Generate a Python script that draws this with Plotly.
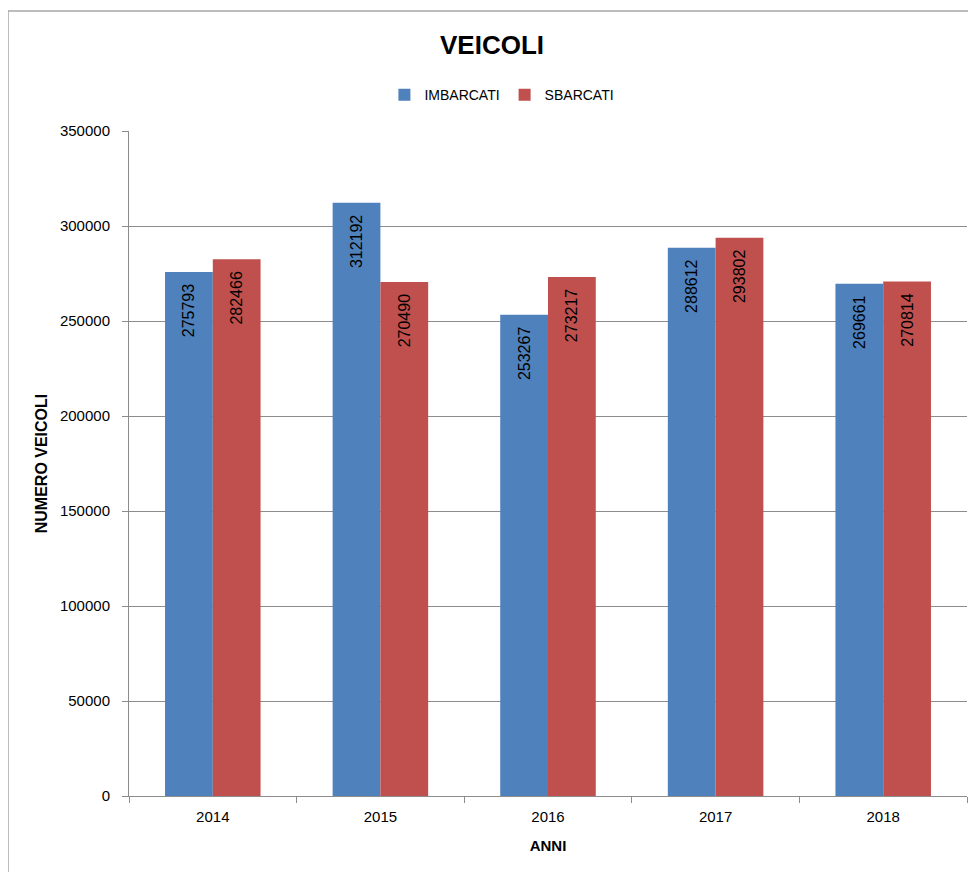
import plotly.graph_objects as go

years = ["2014", "2015", "2016", "2017", "2018"]
imbarcati = [275793, 312192, 253267, 288612, 269661]
sbarcati = [282466, 270490, 273217, 293802, 270814]

BLUE = "#4f81bd"
RED = "#c0504d"
FONT = "Liberation Sans"

fig = go.Figure()
for name, values, color in [("IMBARCATI", imbarcati, BLUE), ("SBARCATI", sbarcati, RED)]:
    fig.add_trace(
        go.Bar(
            name=name,
            x=years,
            y=values,
            marker={"color": color, "line": {"width": 0}},
            # trailing nbsp pushes the rotated label down from the bar top
            text=[f"{v}\u00a0\u00a0" for v in values],
            textposition="inside",
            insidetextanchor="end",
            textangle=-90,
            textfont={"family": FONT, "size": 16, "color": "#000000"},
        )
    )

# the page body adds an 8px offset, so the figure is 8px smaller each way
fig.update_layout(
    width=968,
    height=864,
    barmode="group",
    bargap=0.43,
    bargroupgap=0,
    plot_bgcolor="white",
    paper_bgcolor="white",
    margin={"l": 121, "r": 9, "t": 123, "b": 76},
    font={"family": FONT, "color": "#000000"},
    title={
        "text": "<b>VEICOLI</b>",
        "x": 0.5,
        "xanchor": "center",
        "y": 0.957,
        "yanchor": "middle",
        "font": {"size": 26, "family": FONT},
    },
    legend={
        "orientation": "h",
        "x": 0.445,
        "xanchor": "center",
        "y": 1.054,
        "yanchor": "middle",
        "font": {"size": 14},
        "itemwidth": 30,
    },
    uniformtext={"minsize": 16, "mode": "show"},
    shapes=[
        {"type": "line", "xref": "paper", "yref": "paper", "x0": -0.1444, "x1": -0.1444,
         "y0": 1.1805, "y1": -0.12, "line": {"color": "#a6a6a6", "width": 1.5}},
        {"type": "line", "xref": "paper", "yref": "paper", "x0": -0.1444, "x1": 1.01,
         "y0": 1.1805, "y1": 1.1805, "line": {"color": "#a6a6a6", "width": 1.5}},
    ],
)

fig.update_yaxes(
    range=[0, 350000],
    dtick=50000,
    tickformat="d",
    showgrid=True,
    gridcolor="#8c8c8c",
    gridwidth=1,
    showline=True,
    linecolor="#8c8c8c",
    ticks="outside",
    ticklen=6,
    tickcolor="#8c8c8c",
    tickfont={"size": 15},
    ticklabelstandoff=9,
    title={"text": "<b>NUMERO VEICOLI</b>", "font": {"size": 16}, "standoff": 8},
    zeroline=False,
)
fig.update_xaxes(
    showline=True,
    linecolor="#8c8c8c",
    ticks="outside",
    tickson="boundaries",
    ticklen=6,
    tickcolor="#8c8c8c",
    tickfont={"size": 15},
    ticklabelstandoff=7,
    title={"text": "<b>ANNI</b>", "font": {"size": 15}, "standoff": 16},
)

fig.write_html("out.html")
